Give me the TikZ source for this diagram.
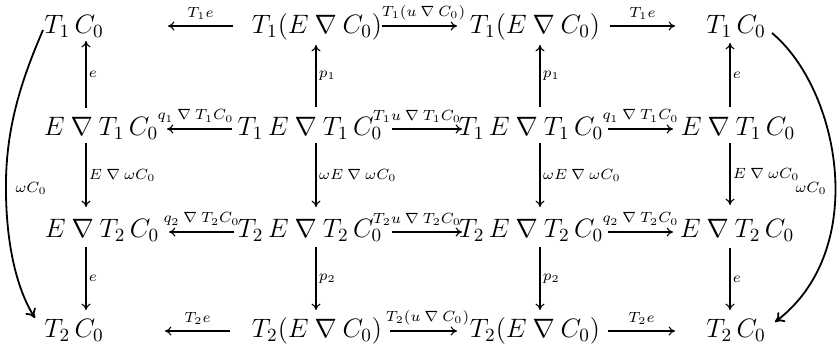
\documentclass[tikz,border=0pt]{standalone}
\usepackage{fix-cm}
\usetikzlibrary{arrows.meta,calc}
\newcommand\Nab{\mathbin{\nabla}}
\begin{document}
\begin{tikzpicture}[x=0.5pt,y=-0.5pt,
  obj/.style={inner sep=0pt, anchor=base, font=\fontsize{13.3}{15}\selectfont},
  lab/.style={font=\fontsize{7.4}{8}\selectfont, inner sep=1.2pt},
  up/.style={above=1.6pt},
  arr/.style={line width=0.55pt, -{To[length=3.2pt,width=4.6pt]}},
  bendarr/.style={line width=0.9pt, -{To[length=4.5pt,width=6pt]}}]
\useasboundingbox (0,0) rectangle (839,350);
% row 1
\node[obj] (A1) at (74,33)  {$T_1\,C_0$};
\node[obj] (A2) at (317,33) {$T_1(E\Nab C_0)$};
\node[obj] (A3) at (535,33) {$T_1(E\Nab C_0)$};
\node[obj] (A4) at (736,33) {$T_1\,C_0$};
% row 2
\node[obj] (B1) at (101,135) {$E\Nab T_1\,C_0$};
\node[obj] (B2) at (310,135) {$T_1\,E\Nab T_1\,C_0$};
\node[obj] (B3) at (531,135) {$T_1\,E\Nab T_1\,C_0$};
\node[obj] (B4) at (738,135) {$E\Nab T_1\,C_0$};
% row 3
\node[obj] (C1) at (102,237) {$E\Nab T_2\,C_0$};
\node[obj] (C2) at (310,237) {$T_2\,E\Nab T_2\,C_0$};
\node[obj] (C3) at (531,237) {$T_2\,E\Nab T_2\,C_0$};
\node[obj] (C4) at (737,237) {$E\Nab T_2\,C_0$};
% row 4
\node[obj] (D1) at (74,337)  {$T_2\,C_0$};
\node[obj] (D2) at (317,337) {$T_2(E\Nab C_0)$};
\node[obj] (D3) at (535,337) {$T_2(E\Nab C_0)$};
\node[obj] (D4) at (736,337) {$T_2\,C_0$};

% horizontal arrows, row 1
\draw[arr] ($(A2.base)+(-84,-7)$) -- node[lab,up]{$T_1 e$} ($(A1.base)+(94,-7)$);
\draw[arr] ($(A2.base)+(65,-7)$) -- node[lab,up,xshift=2pt]{$T_1(u\Nab C_0)$} ($(A3.base)+(-78,-7)$);
\draw[arr] ($(A3.base)+(75,-7)$) -- node[lab,up]{$T_1 e$} ($(A4.base)+(-61,-7)$);
% row 2
\draw[arr] ($(B2.base)+(-78,-6)$) -- node[lab,up,xshift=-2pt]{$q_1\Nab T_1 C_0$} ($(B1.base)+(66,-6)$);
\draw[arr] ($(B2.base)+(82,-6)$) -- node[lab,up,xshift=-5pt]{$T_1 u\Nab T_1 C_0$} ($(B3.base)+(-69,-6)$);
\draw[arr] ($(B3.base)+(77,-6)$) -- node[lab,up]{$q_1\Nab T_1 C_0$} ($(B4.base)+(-65,-6)$);
% row 3
\draw[arr] ($(C2.base)+(-76,-5)$) -- node[lab,up]{$q_2\Nab T_2 C_0$} ($(C1.base)+(67,-5)$);
\draw[arr] ($(C2.base)+(82,-5)$) -- node[lab,up,xshift=-5pt]{$T_2 u\Nab T_2 C_0$} ($(C3.base)+(-69,-5)$);
\draw[arr] ($(C3.base)+(77,-5)$) -- node[lab,up]{$q_2\Nab T_2 C_0$} ($(C4.base)+(-64,-5)$);
% row 4
\draw[arr] ($(D2.base)+(-87,-6)$) -- node[lab,up]{$T_2 e$} ($(D1.base)+(91,-6)$);
\draw[arr] ($(D2.base)+(73,-6)$) -- node[lab,up,xshift=2pt]{$T_2(u\Nab C_0)$} ($(D3.base)+(-78,-6)$);
\draw[arr] ($(D3.base)+(73,-6)$) -- node[lab,up]{$T_2 e$} ($(D4.base)+(-61,-6)$);

% vertical arrows, column 1
\draw[arr] ($(B1.base)+(-15,-27)$) -- node[lab,right]{$e$} ($(A1.base)+(12,8)$);
\draw[arr] ($(B1.base)+(-15,8)$) -- node[lab,right]{$E\Nab \omega C_0$} ($(C1.base)+(-16,-30)$);
\draw[arr] ($(C1.base)+(-16,10)$) -- node[lab,right]{$e$} ($(D1.base)+(12,-27)$);
% column 2
\draw[arr] ($(B2.base)+(6,-28)$) -- node[lab,right]{$p_1$} ($(A2.base)+(-1,12)$);
\draw[arr] ($(B2.base)+(6,8)$) -- node[lab,right]{$\omega E\Nab \omega C_0$} ($(C2.base)+(6,-30)$);
\draw[arr] ($(C2.base)+(6,10)$) -- node[lab,right]{$p_2$} ($(D2.base)+(-1,-27)$);
% column 3
\draw[arr] ($(B3.base)+(9,-28)$) -- node[lab,right]{$p_1$} ($(A3.base)+(5,12)$);
\draw[arr] ($(B3.base)+(9,8)$) -- node[lab,right]{$\omega E\Nab \omega C_0$} ($(C3.base)+(9,-30)$);
\draw[arr] ($(C3.base)+(9,10)$) -- node[lab,right]{$p_2$} ($(D3.base)+(5,-27)$);
% column 4
\draw[arr] ($(B4.base)+(-8,-28)$) -- node[lab,right]{$e$} ($(A4.base)+(-6,10)$);
\draw[arr] ($(B4.base)+(-8,8)$) -- node[lab,right]{$E\Nab \omega C_0$} ($(C4.base)+(-7,-32)$);
\draw[arr] ($(C4.base)+(-7,11)$) -- node[lab,right]{$e$} ($(D4.base)+(-6,-27)$);

% curved arrows
\draw[bendarr] ($(A1.base)+(-31,-3)$) .. controls (25,72) and (7,120) .. (6,180)
  .. controls (5,240) and (16,288) .. ($(D1.base)+(-39,-19)$);
\node[lab] (wl) at (31,188) {$\omega C_0$};
\draw[bendarr] ($(A4.base)+(36,0)$) .. controls (840,90) and (870,250) .. ($(D4.base)+(39,-15)$);
\node[lab] (wr) at (811,188) {$\omega C_0$};
\end{tikzpicture}
\end{document}
